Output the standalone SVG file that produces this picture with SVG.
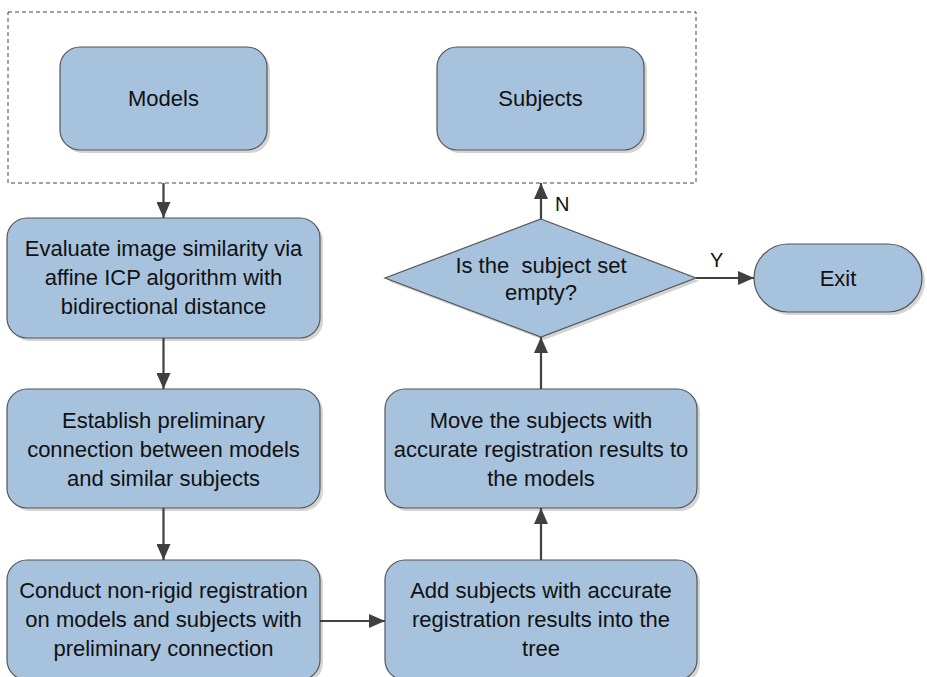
<svg xmlns="http://www.w3.org/2000/svg" width="927" height="677" viewBox="0 0 927 677">
<style>
.box{fill:#a7c2dd;stroke:#555;stroke-width:1.2}
.sh{fill:#d4d4d4}
.t{font-family:"Liberation Sans",Arial,sans-serif;font-size:22px;fill:#111;text-anchor:middle}
.lbl{font-family:"Liberation Sans",Arial,sans-serif;font-size:20px;fill:#111}
.c{stroke:#404040;stroke-width:2.2;fill:none;marker-end:url(#ah)}
</style>
<defs>
<marker id="ah" viewBox="0 0 16 14" refX="16" refY="7" markerWidth="16" markerHeight="14" markerUnits="userSpaceOnUse" orient="auto">
<path d="M0,0 L16,7 L0,14 Z" fill="#404040"/>
</marker>
</defs>
<rect width="927" height="677" fill="#fff"/>
<g id="group-box">
<rect x="8" y="12" width="688" height="171" fill="none" stroke="#444" stroke-width="1" stroke-dasharray="4,3"/>
</g>
<g id="models">
<rect class="sh" x="63" y="50" width="207" height="103" rx="20"/>
<rect class="box" x="60" y="47" width="207" height="103" rx="20"/>
<text class="t" x="163.5" y="106">Models</text>
</g>
<g id="subjects">
<rect class="sh" x="440" y="50" width="207" height="103" rx="20"/>
<rect class="box" x="437" y="47" width="207" height="103" rx="20"/>
<text class="t" x="540.5" y="106">Subjects</text>
</g>
<g id="evaluate">
<rect class="sh" x="10" y="221" width="313" height="120" rx="20"/>
<rect class="box" x="7" y="218" width="313" height="120" rx="20"/>
<text class="t" x="163.5" y="256">Evaluate image similarity via</text>
<text class="t" x="163.5" y="285">affine ICP algorithm with</text>
<text class="t" x="163.5" y="314">bidirectional distance</text>
</g>
<g id="establish">
<rect class="sh" x="10" y="392" width="313" height="119" rx="20"/>
<rect class="box" x="7" y="389" width="313" height="119" rx="20"/>
<text class="t" x="163.5" y="428">Establish preliminary</text>
<text class="t" x="163.5" y="457">connection between models</text>
<text class="t" x="163.5" y="486">and similar subjects</text>
</g>
<g id="conduct">
<rect class="sh" x="10" y="563" width="313" height="120" rx="20"/>
<rect class="box" x="7" y="560" width="313" height="120" rx="20"/>
<text class="t" x="163.5" y="598">Conduct non-rigid registration</text>
<text class="t" x="163.5" y="627">on models and subjects with</text>
<text class="t" x="163.5" y="656">preliminary connection</text>
</g>
<g id="add">
<rect class="sh" x="388" y="563" width="312" height="120" rx="20"/>
<rect class="box" x="385" y="560" width="312" height="120" rx="20"/>
<text class="t" x="541" y="598">Add subjects with accurate</text>
<text class="t" x="541" y="627">registration results into the</text>
<text class="t" x="541" y="656">tree</text>
</g>
<g id="move">
<rect class="sh" x="388" y="392" width="312" height="119" rx="20"/>
<rect class="box" x="385" y="389" width="312" height="119" rx="20"/>
<text class="t" x="541" y="428">Move the subjects with</text>
<text class="t" x="541" y="457">accurate registration results to</text>
<text class="t" x="541" y="486">the models</text>
</g>
<g id="decision">
<polygon class="sh" points="544,222 699,281 544,340 388,281"/>
<polygon class="box" points="541,219 696,278 541,337 385,278"/>
<text class="t" x="541" y="273" xml:space="preserve">Is the  subject set</text>
<text class="t" x="541" y="300">empty?</text>
</g>
<g id="exit">
<rect class="sh" x="757" y="247" width="168" height="68" rx="34"/>
<rect class="box" x="754" y="244" width="168" height="68" rx="34"/>
<text class="t" x="838" y="286">Exit</text>
</g>
<g id="connectors">
<line class="c" x1="163.5" y1="183" x2="163.5" y2="218"/>
<line class="c" x1="163.5" y1="338" x2="163.5" y2="389"/>
<line class="c" x1="163.5" y1="508" x2="163.5" y2="560"/>
<line class="c" x1="320" y1="621" x2="385" y2="621"/>
<line class="c" x1="541" y1="560" x2="541" y2="508"/>
<line class="c" x1="541" y1="389" x2="541" y2="337"/>
<line class="c" x1="541" y1="219" x2="541" y2="183"/>
<line class="c" x1="696" y1="278" x2="754" y2="278"/>
<text class="lbl" x="555" y="211">N</text>
<text class="lbl" x="710" y="267">Y</text>
</g>
</svg>
